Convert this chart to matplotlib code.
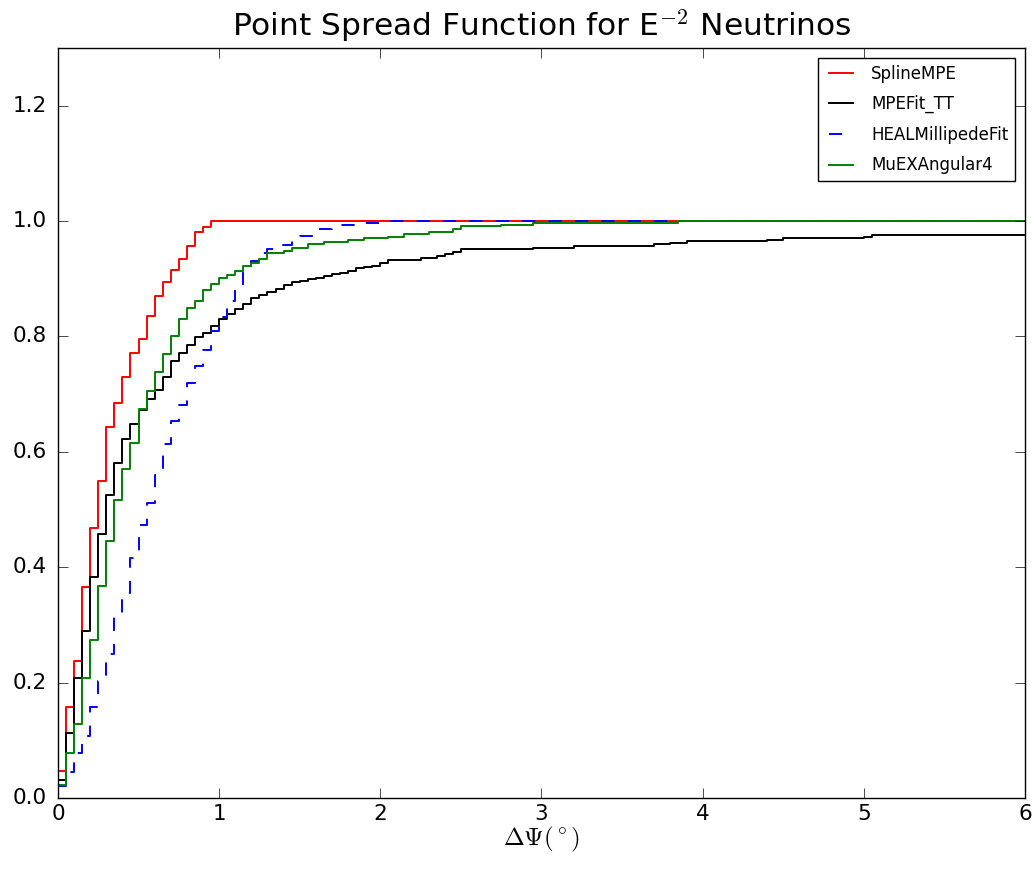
import numpy as np
import matplotlib
matplotlib.use("Agg")
from matplotlib import pyplot as plt

# cumulative step curves: x = left edge where the value changes, y = value from there on
spline_x = [0.00, 0.05, 0.10, 0.15, 0.20, 0.25, 0.30, 0.35, 0.40, 0.45,
            0.50, 0.55, 0.60, 0.65, 0.70, 0.75, 0.80, 0.85, 0.90, 0.95, 6.0]
spline_y = [0.047, 0.157, 0.238, 0.365, 0.468, 0.549, 0.643, 0.685, 0.730, 0.771,
            0.795, 0.836, 0.870, 0.894, 0.915, 0.935, 0.956, 0.981, 0.989, 1.0, 1.0]

mpefit_x = [0.00, 0.05, 0.10, 0.15, 0.20, 0.25, 0.30, 0.35, 0.40, 0.45,
            0.50, 0.55, 0.60, 0.65, 0.70, 0.75, 0.80, 0.85, 0.90, 0.95,
            1.00, 1.05, 1.10, 1.15, 1.20, 1.25, 1.30, 1.35, 1.40, 1.45,
            1.50, 1.55, 1.60, 1.65, 1.70, 1.75, 1.80, 1.85, 1.90, 1.95,
            2.00, 2.05, 2.25, 2.35, 2.40, 2.45, 2.50, 2.95, 3.20, 3.70,
            3.80, 3.90, 4.40, 4.50, 5.00, 5.05, 6.0]
mpefit_y = [0.031, 0.112, 0.208, 0.289, 0.383, 0.457, 0.526, 0.580, 0.623, 0.649,
            0.672, 0.692, 0.708, 0.730, 0.757, 0.772, 0.785, 0.799, 0.806, 0.818,
            0.830, 0.839, 0.847, 0.856, 0.866, 0.872, 0.877, 0.883, 0.889, 0.894,
            0.897, 0.899, 0.902, 0.904, 0.908, 0.910, 0.914, 0.918, 0.920, 0.922,
            0.928, 0.932, 0.936, 0.940, 0.943, 0.947, 0.951, 0.954, 0.956, 0.960,
            0.962, 0.965, 0.968, 0.970, 0.973, 0.976, 0.976]

millipede_x = [0.00, 0.05, 0.10, 0.15, 0.20, 0.25, 0.30, 0.35, 0.40, 0.45,
               0.50, 0.55, 0.60, 0.65, 0.70, 0.75, 0.80, 0.85, 0.90, 0.95,
               1.00, 1.05, 1.10, 1.15, 1.20, 1.25, 1.30, 1.35, 1.45, 1.50,
               1.60, 1.70, 1.85, 2.05, 6.0]
millipede_y = [0.020, 0.045, 0.078, 0.108, 0.157, 0.203, 0.250, 0.320, 0.355, 0.416,
               0.474, 0.512, 0.560, 0.613, 0.653, 0.682, 0.720, 0.749, 0.777, 0.810,
               0.834, 0.862, 0.888, 0.912, 0.930, 0.945, 0.952, 0.958, 0.966, 0.975,
               0.987, 0.994, 0.997, 1.0, 1.0]

muex_x = [0.00, 0.05, 0.10, 0.15, 0.20, 0.25, 0.30, 0.35, 0.40, 0.45,
          0.50, 0.55, 0.60, 0.65, 0.70, 0.75, 0.80, 0.85, 0.90, 0.95,
          1.00, 1.05, 1.10, 1.15, 1.20, 1.25, 1.30, 1.40, 1.45, 1.55,
          1.65, 1.80, 1.90, 2.05, 2.15, 2.30, 2.45, 2.50, 2.75, 2.95,
          3.85, 6.0]
muex_y = [0.023, 0.078, 0.128, 0.208, 0.274, 0.367, 0.445, 0.516, 0.571, 0.616,
          0.675, 0.705, 0.739, 0.770, 0.801, 0.831, 0.850, 0.862, 0.880, 0.891,
          0.902, 0.907, 0.914, 0.922, 0.928, 0.934, 0.944, 0.948, 0.954, 0.960,
          0.964, 0.968, 0.970, 0.973, 0.977, 0.981, 0.986, 0.991, 0.993, 0.996,
          1.0, 1.0]

plt.style.use('classic')
plt.rcParams['mathtext.fontset'] = 'cm'
plt.rcParams['lines.scale_dashes'] = False

fig = plt.figure(figsize=(10.35, 8.73), dpi=100, facecolor='white')
ax = fig.add_axes([0.056, 0.0859, 0.9343, 0.8591])

ax.step(spline_x, spline_y, where='post', color='r', lw=1.4, label='SplineMPE')
ax.step(mpefit_x, mpefit_y, where='post', color='k', lw=1.4, label='MPEFit_TT')
ax.step(millipede_x, millipede_y, where='post', color='b', lw=1.4,
        dashes=(9.5, 9.5), label='HEALMillipedeFit')
ax.step(muex_x, muex_y, where='post', color='g', lw=1.4, label='MuEXAngular4')

ax.set_xlim(0, 6)
ax.set_ylim(0, 1.3)
ax.set_yticks(np.arange(0, 1.21, 0.2))
ax.tick_params(labelsize=15.5, length=7)
ax.tick_params(axis='x', pad=4)
ax.tick_params(axis='y', pad=8)
ax.set_xlabel(r'$\Delta\Psi(^\circ)$', fontsize=18, labelpad=1)
ax.set_title(r'Point Spread Function for E$^{-2}$ Neutrinos', fontsize=22.5, y=1.006)

ax.legend(loc='upper right', fontsize=12, handlelength=2, labelspacing=0.75,
          borderaxespad=0.6, fancybox=False)

fig.savefig('out.png', dpi=100, facecolor='white')
plt.close(fig)
